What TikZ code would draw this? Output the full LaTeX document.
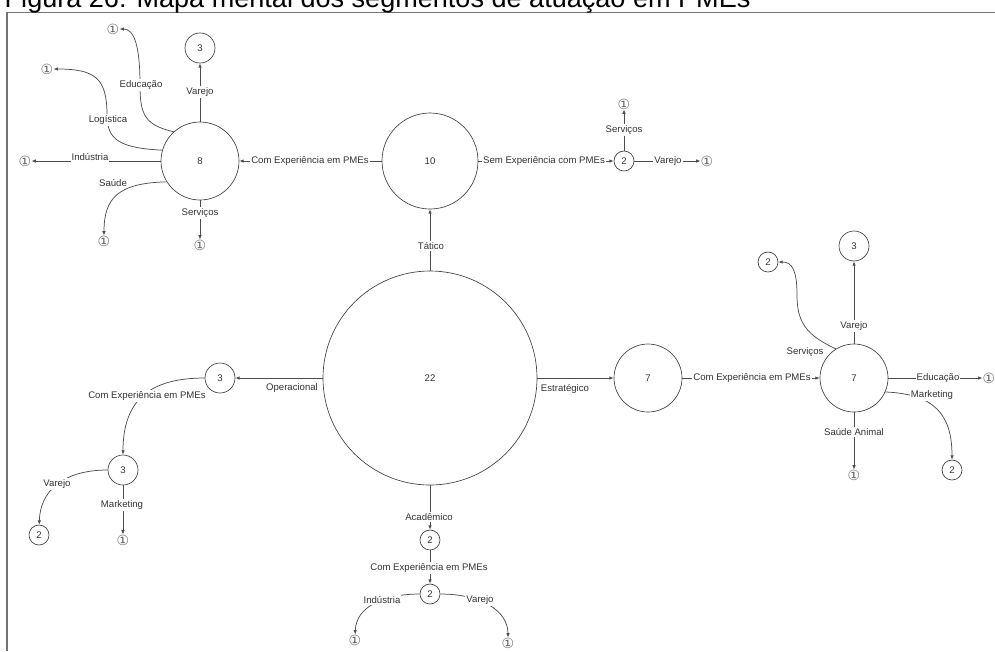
\documentclass[tikz,border=0pt]{standalone}
\usepackage{fontspec}
\setmainfont{Liberation Sans}
\newfontfamily\circfont{DejaVu Sans}
\usetikzlibrary{arrows.meta,positioning}

\begin{document}
\begin{tikzpicture}[x=0.75pt,y=-0.75pt]
	\tikzstyle{every node}=[font=\fontsize{7.2}{8.6}\selectfont, text=black!80]
	\tikzstyle{seg}=[circle, draw=black!75, line width=0.5pt, inner sep=0pt]
	\tikzstyle{one}=[inner sep=0pt, font=\circfont\fontsize{10.5}{11}\selectfont, text=black!60]
	\tikzstyle{link}=[draw=black!70, line width=0.55pt, -{Latex[length=3.2pt,width=2.6pt]}]
	\tikzstyle{lbl}=[fill=white, inner sep=0.8pt]
	\useasboundingbox (0,0) rectangle (995,651);
	\draw[black!55, line width=0.9pt] (7,651) -- (7,12.5) -- (995,12.5);
	\node[anchor=base west, font=\fontsize{20.3}{24}\selectfont, text=black] (title) at (0,7) {Figura 26: Mapa mental dos segmentos de atuação em PMEs};

	\node[seg, minimum size=160.5pt] (c22) at (430,378) {22};
	\node[seg, minimum size=72pt] (c10) at (430,161) {10};
	\node[seg, minimum size=58.5pt] (c8) at (200,161) {8};
	\node[seg, minimum size=22.5pt] (c8v) at (200,48) {3};
	\node[one] (c8e) at (113,29) {①};
	\node[one] (c8l) at (47,69) {①};
	\node[one] (c8i) at (25,161) {①};
	\node[one] (c8s) at (104,241) {①};
	\node[one] (c8sv) at (200,245) {①};
	\node[seg, minimum size=15pt] (c10s) at (624,161) {2};
	\node[one] (c10sv) at (624,104) {①};
	\node[one] (c10v) at (707,161) {①};
	\node[seg, minimum size=51pt] (c7) at (648,378) {7};
	\node[seg, minimum size=51pt] (c7c) at (854,378) {7};
	\node[seg, minimum size=22.5pt] (c7v) at (854,246) {3};
	\node[seg, minimum size=15pt] (c7sv) at (768,262) {2};
	\node[one] (c7e) at (989,378) {①};
	\node[seg, minimum size=15pt] (c7m) at (952,470) {2};
	\node[one] (c7sa) at (854,475) {①};
	\node[seg, minimum size=22.5pt] (c3) at (220,378) {3};
	\node[seg, minimum size=22.5pt] (c3c) at (123,470) {3};
	\node[seg, minimum size=15pt] (c3v) at (39,535) {2};
	\node[one] (c3m) at (123,540) {①};
	\node[seg, minimum size=15pt] (c2) at (430,540) {2};
	\node[seg, minimum size=15pt] (c2c) at (430,594) {2};
	\node[one] (c2i) at (355,640) {①};
	\node[one] (c2v) at (508,643) {①};

	\draw[link] (c22) -- (c10);
	\draw[link] (c10) -- (c8);
	\draw[link] (c10) -- (c10s);
	\draw[link] (c10s) -- (c10sv);
	\draw[link] (c10s) -- (c10v);
	\draw[link] (c8) -- (c8v);
	\draw[link] (c8.132) .. controls (145,125) and (140,115) .. (140,85) .. controls (140,45) and (134,29) .. (c8e);
	\draw[link] (c8.164) .. controls (120,148) and (107,140) .. (107,115) .. controls (107,78) and (95,69) .. (c8l);
	\draw[link] (c8) -- (c8i);
	\draw[link] (c8.212) .. controls (118,183) and (104,198) .. (c8s);
	\draw[link] (c8) -- (c8sv);
	\draw[link] (c22) -- (c7);
	\draw[link] (c7) -- (c7c);
	\draw[link] (c7c) -- (c7v);
	\draw[link] (c7c.122) .. controls (806,335) and (797,322) .. (797,295) .. controls (797,270) and (792,262) .. (c7sv);
	\draw[link] (c7c) -- (c7e);
	\draw[link] (c7c.336) .. controls (935,394) and (952,415) .. (c7m);
	\draw[link] (c7c) -- (c7sa);
	\draw[link] (c22) -- (c3);
	\draw[link] (c3) .. controls (150,378) and (123,400) .. (c3c);
	\draw[link] (c3c) .. controls (62,470) and (40,492) .. (c3v);
	\draw[link] (c3c) -- (c3m);
	\draw[link] (c22) -- (c2);
	\draw[link] (c2) -- (c2c);
	\draw[link] (c2c) .. controls (385,594) and (356,606) .. (c2i);
	\draw[link] (c2c) .. controls (480,594) and (508,610) .. (c2v);

	\node[lbl] (tEdu1) at (141,85) {Educação};
	\node[lbl] (tVar1) at (200,92) {Varejo};
	\node[lbl] (tLog) at (108,120) {Logística};
	\node[lbl] (tInd1) at (90,157) {Indústria};
	\node[lbl] (tSau) at (113,183) {Saúde};
	\node[lbl] (tSer1) at (200,213) {Serviços};
	\node[lbl] (tCom1) at (310,161) {Com Experiência em PMEs};
	\node[lbl] (tSem) at (544,161) {Sem Experiência com PMEs};
	\node[lbl] (tSer2) at (624,130) {Serviços};
	\node[lbl] (tVar2) at (668,161) {Varejo};
	\node[lbl] (tTat) at (431,246) {Tático};
	\node[lbl] (tEst) at (565,389) {Estratégico};
	\node[lbl] (tCom2) at (752,378) {Com Experiência em PMEs};
	\node[lbl] (tVar3) at (854,326) {Varejo};
	\node[lbl] (tSer3) at (805,352) {Serviços};
	\node[lbl] (tEdu2) at (938,378) {Educação};
	\node[lbl] (tMkt1) at (932,395) {Marketing};
	\node[lbl] (tSa) at (854,432) {Saúde Animal};
	\node[lbl] (tOp) at (292,388) {Operacional};
	\node[lbl] (tCom3) at (147,396) {Com Experiência em PMEs};
	\node[lbl] (tVar4) at (57,484) {Varejo};
	\node[lbl] (tMkt2) at (122,505) {Marketing};
	\node[lbl] (tAca) at (429,517) {Acadêmico};
	\node[lbl] (tCom4) at (429,568) {Com Experiência em PMEs};
	\node[lbl] (tInd2) at (382,600) {Indústria};
	\node[lbl] (tVar5) at (480,600) {Varejo};
\end{tikzpicture}
\end{document}
